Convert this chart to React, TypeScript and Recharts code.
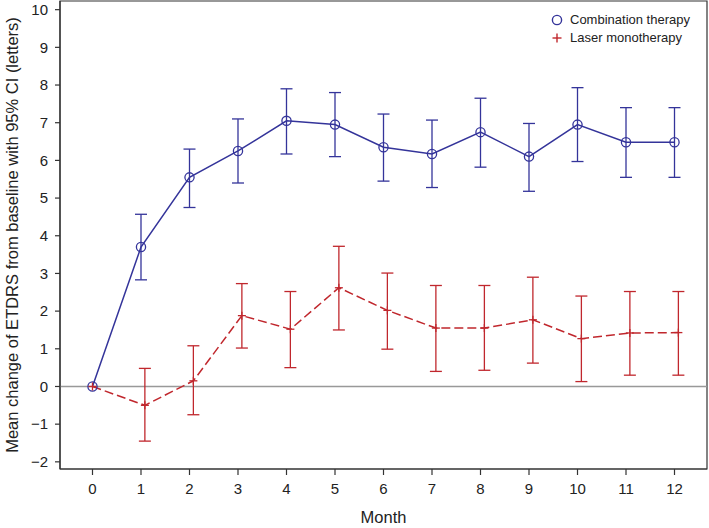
import React from 'react';
import { ComposedChart, Line, XAxis, YAxis, ErrorBar, ReferenceLine, ReferenceArea } from 'recharts';

const months = [0, 1, 2, 3, 4, 5, 6, 7, 8, 9, 10, 11, 12];
const yTicks = [-2, -1, 0, 1, 2, 3, 4, 5, 6, 7, 8, 9, 10];

const comboMean = [0, 3.7, 5.55, 6.25, 7.05, 6.95, 6.35, 6.17, 6.75, 6.1, 6.95, 6.48, 6.48];
const comboLow = [0, 2.83, 4.75, 5.4, 6.17, 6.1, 5.45, 5.28, 5.82, 5.18, 5.97, 5.55, 5.55];
const comboHigh = [0, 4.57, 6.3, 7.1, 7.9, 7.8, 7.23, 7.07, 7.65, 6.98, 7.93, 7.4, 7.4];

const laserMean = [0, -0.5, 0.15, 1.88, 1.52, 2.62, 2.02, 1.55, 1.55, 1.77, 1.27, 1.42, 1.43];
const laserLow = [0, -1.45, -0.75, 1.02, 0.5, 1.5, 0.99, 0.4, 0.43, 0.62, 0.13, 0.3, 0.3];
const laserHigh = [0, 0.48, 1.08, 2.73, 2.52, 3.72, 3.01, 2.68, 2.68, 2.9, 2.4, 2.52, 2.52];
const laserShift = 0.08;

const BLUE = '#34349A';
const RED = '#C0272D';

const comboData = months.map((m, i) => ({
  x: m,
  y: comboMean[i],
  err: i === 0 ? null : [comboMean[i] - comboLow[i], comboHigh[i] - comboMean[i]],
}));
const laserData = months.map((m, i) => ({
  x: i === 0 ? m : m + laserShift,
  y: laserMean[i],
  err: i === 0 ? null : [laserMean[i] - laserLow[i], laserHigh[i] - laserMean[i]],
}));

const XD: [number, number] = [-0.67, 12.67];
const YD: [number, number] = [-2.19, 10.23];

const CircleDot = (p: any) => {
  if (p.cx == null || p.cy == null) return null;
  return <circle key={p.index} cx={p.cx} cy={p.cy} r={4.6} fill="none" stroke={BLUE} strokeWidth={1.3} />;
};
const PlusDot = (p: any) => {
  if (p.cx == null || p.cy == null) return null;
  return (
    <g key={p.index}>
      <line x1={p.cx - 4} y1={p.cy} x2={p.cx + 4} y2={p.cy} stroke={RED} strokeWidth={1.3} />
      <line x1={p.cx} y1={p.cy - 4} x2={p.cx} y2={p.cy + 4} stroke={RED} strokeWidth={1.3} />
    </g>
  );
};

const font = 'Liberation Sans, Arial, sans-serif';

const LegendBox = () => (
  <div
    style={{
      position: 'absolute',
      left: 550,
      top: 11,
      fontFamily: font,
      fontSize: 13,
      color: '#222',
      lineHeight: '18px',
    }}
  >
    <div style={{ display: 'flex', alignItems: 'center', height: 18 }}>
      <svg width={14} height={14} style={{ marginRight: 6 }}>
        <circle cx={7} cy={7} r={4.6} fill="none" stroke={BLUE} strokeWidth={1.4} />
      </svg>
      Combination therapy
    </div>
    <div style={{ display: 'flex', alignItems: 'center', height: 18 }}>
      <svg width={14} height={14} style={{ marginRight: 6 }}>
        <line x1={2.5} y1={7} x2={11.5} y2={7} stroke={RED} strokeWidth={1.4} />
        <line x1={7} y1={2.5} x2={7} y2={11.5} stroke={RED} strokeWidth={1.4} />
      </svg>
      Laser monotherapy
    </div>
  </div>
);

export default function App() {
  return (
    <div style={{ position: 'absolute', left: 0, top: 0, width: 709, height: 528, background: '#fff' }}>
      <ComposedChart width={709} height={528} margin={{ top: 1, right: 2, left: 0, bottom: 0 }}>
        <XAxis
          type="number"
          dataKey="x"
          domain={XD}
          allowDataOverflow
          ticks={months}
          interval={0}
          height={59}
          tickSize={6}
          tickMargin={8}
          axisLine={{ stroke: '#333', strokeWidth: 1.2 }}
          tickLine={{ stroke: '#333', strokeWidth: 1.2 }}
          tick={{ fill: '#222', fontSize: 15, fontFamily: font }}
          label={{ value: 'Month', position: 'insideBottom', offset: 5, fill: '#222', fontSize: 16.5, fontFamily: font }}
        />
        <YAxis
          type="number"
          domain={YD}
          allowDataOverflow
          ticks={yTicks}
          interval={0}
          width={60}
          tickSize={5}
          tickMargin={7}
          axisLine={{ stroke: '#333', strokeWidth: 1.2 }}
          tickLine={{ stroke: '#333', strokeWidth: 1.2 }}
          tick={{ fill: '#222', fontSize: 15, fontFamily: font }}
          tickFormatter={(v: number) => (v < 0 ? `\u2212${Math.abs(v)}` : `${v}`)}
          label={{
            value: 'Mean change of ETDRS from baseline with 95% CI (letters)',
            angle: -90,
            position: 'insideLeft',
            offset: 12,
            style: { textAnchor: 'middle' },
            fill: '#222',
            fontSize: 16.5,
            fontFamily: font,
          }}
        />
        <ReferenceArea
          x1={XD[0]}
          x2={XD[1]}
          y1={YD[0]}
          y2={YD[1]}
          fill="none"
          fillOpacity={0}
          stroke="#333"
          strokeWidth={1.2}
          ifOverflow="visible"
        />
        <ReferenceLine y={0} stroke="#999" strokeWidth={1.5} />
        <Line
          name="Combination therapy"
          data={comboData}
          dataKey="y"
          stroke={BLUE}
          strokeWidth={1.5}
          dot={<CircleDot />}
          activeDot={false}
          isAnimationActive={false}
        >
          <ErrorBar dataKey="err" direction="y" width={6} stroke={BLUE} strokeWidth={1.3} />
        </Line>
        <Line
          name="Laser monotherapy"
          data={laserData}
          dataKey="y"
          stroke={RED}
          strokeWidth={1.5}
          strokeDasharray="9 4"
          dot={<PlusDot />}
          activeDot={false}
          isAnimationActive={false}
        >
          <ErrorBar dataKey="err" direction="y" width={6} stroke={RED} strokeWidth={1.3} />
        </Line>
      </ComposedChart>
      <LegendBox />
    </div>
  );
}
